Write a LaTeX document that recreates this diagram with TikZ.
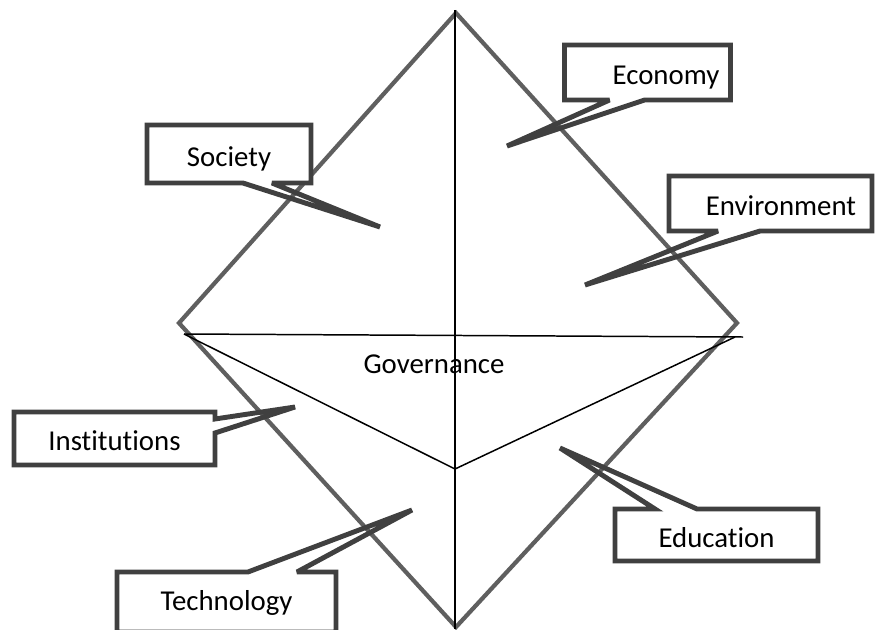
\documentclass[tikz,border=0pt]{standalone}
\usepackage{fontspec}
\setmainfont{Carlito}[Ligatures=NoCommon]
\usepackage{tikz}
\usetikzlibrary{calc}
\usetikzlibrary{positioning}
\definecolor{diamondGray}{RGB}{95,95,95}
\definecolor{calloutGray}{RGB}{64,64,64}
\tikzset{every picture/.style={semithick}}
\tikzstyle{box}=[fill=white,inner sep=0pt,text height=14pt,text depth=0pt,font=\fontsize{16.4}{19}\selectfont]
\tikzstyle{callout}=[draw=calloutGray,line width=2.8pt,line join=miter,miter limit=4]
\tikzstyle{frame}=[draw=diamondGray,line width=2.4pt]
\tikzstyle{thin}=[draw=black,line width=0.85pt]

\begin{document}
\begin{tikzpicture}[x=0.02cm,y=-0.02cm]
        \useasboundingbox (0,0) rectangle (886,629);
        % diamond
        \coordinate (top) at (456,13);
        \coordinate (right) at (737,323);
        \coordinate (bot) at (456,627);
        \coordinate (left) at (179,323);
        \draw [frame] (top) -- (right) -- (bot) -- (left) -- cycle;
        % inner lines
        \coordinate (vtop) at (455,10);
        \coordinate (vbot) at (455,629);
        \coordinate (hl) at (184,334);
        \coordinate (hr) at (743,337);
        \coordinate (sr) at (735,337);
        \coordinate (mid) at (455,469);
        \draw [thin] (vtop) -- (vbot);
        \draw [thin] (hl) -- (hr);
        \draw [thin] (hl) -- (mid) -- (sr);
        \node [font=\fontsize{16.4}{19}\selectfont] (gov) at (434,364) {Governance};
        % callout boxes
        \node [box,minimum width=3.26cm,minimum height=1.14cm] (soc) at (229,154) {Society};
        \node [box,minimum width=3.3cm,minimum height=1.08cm] (eco) at (647.5,72.5) {\hspace{0.74cm}Economy};
        \node [box,minimum width=4.04cm,minimum height=1.08cm] (env) at (770.5,203.5) {\hspace{0.42cm}Environment};
        \node [box,minimum width=4.0cm,minimum height=1.04cm] (inst) at (114.5,438.5) {Institutions};
        \node [box,minimum width=4.04cm,minimum height=1.02cm] (edu) at (716.5,535) {Education};
        \node [box,text height=10pt,minimum width=4.36cm,minimum height=1.18cm] (tech) at (226.5,602) {Technology};
        % pointer tips
        \coordinate (socTip) at (380,227);
        \coordinate (ecoTip) at (507,146);
        \coordinate (envTip) at (585,285);
        \coordinate (instTip) at (295,407);
        \coordinate (eduTip) at (560,448);
        \coordinate (techTip) at (412,510);
        % outlines with wedges
        \draw [callout] (soc.north west) -- (soc.north east) -- (soc.south east) -- ($(soc.south west)+(125,0)$) -- (socTip) -- ($(soc.south west)+(96,0)$) -- (soc.south west) -- cycle;
        \draw [callout] (eco.north west) -- (eco.north east) -- (eco.south east) -- ($(eco.south west)+(80,0)$) -- (ecoTip) -- ($(eco.south west)+(45,0)$) -- (eco.south west) -- cycle;
        \draw [callout] (env.north west) -- (env.north east) -- (env.south east) -- ($(env.south west)+(91,0)$) -- (envTip) -- ($(env.south west)+(49,0)$) -- (env.south west) -- cycle;
        \draw [callout] (inst.north west) -- (inst.north east) -- ($(inst.north east)+(0,7)$) -- (instTip) -- ($(inst.north east)+(0,21)$) -- (inst.south east) -- (inst.south west) -- cycle;
        \draw [callout] (edu.north west) -- ($(edu.north west)+(40,0)$) -- (eduTip) -- ($(edu.north west)+(82,0)$) -- (edu.north east) -- (edu.south east) -- (edu.south west) -- cycle;
        \draw [callout] (tech.north west) -- ($(tech.north west)+(131,0)$) -- (techTip) -- ($(tech.north west)+(180,0)$) -- (tech.north east) -- (tech.south east) -- (tech.south west) -- cycle;
        \end{tikzpicture}
\end{document}
